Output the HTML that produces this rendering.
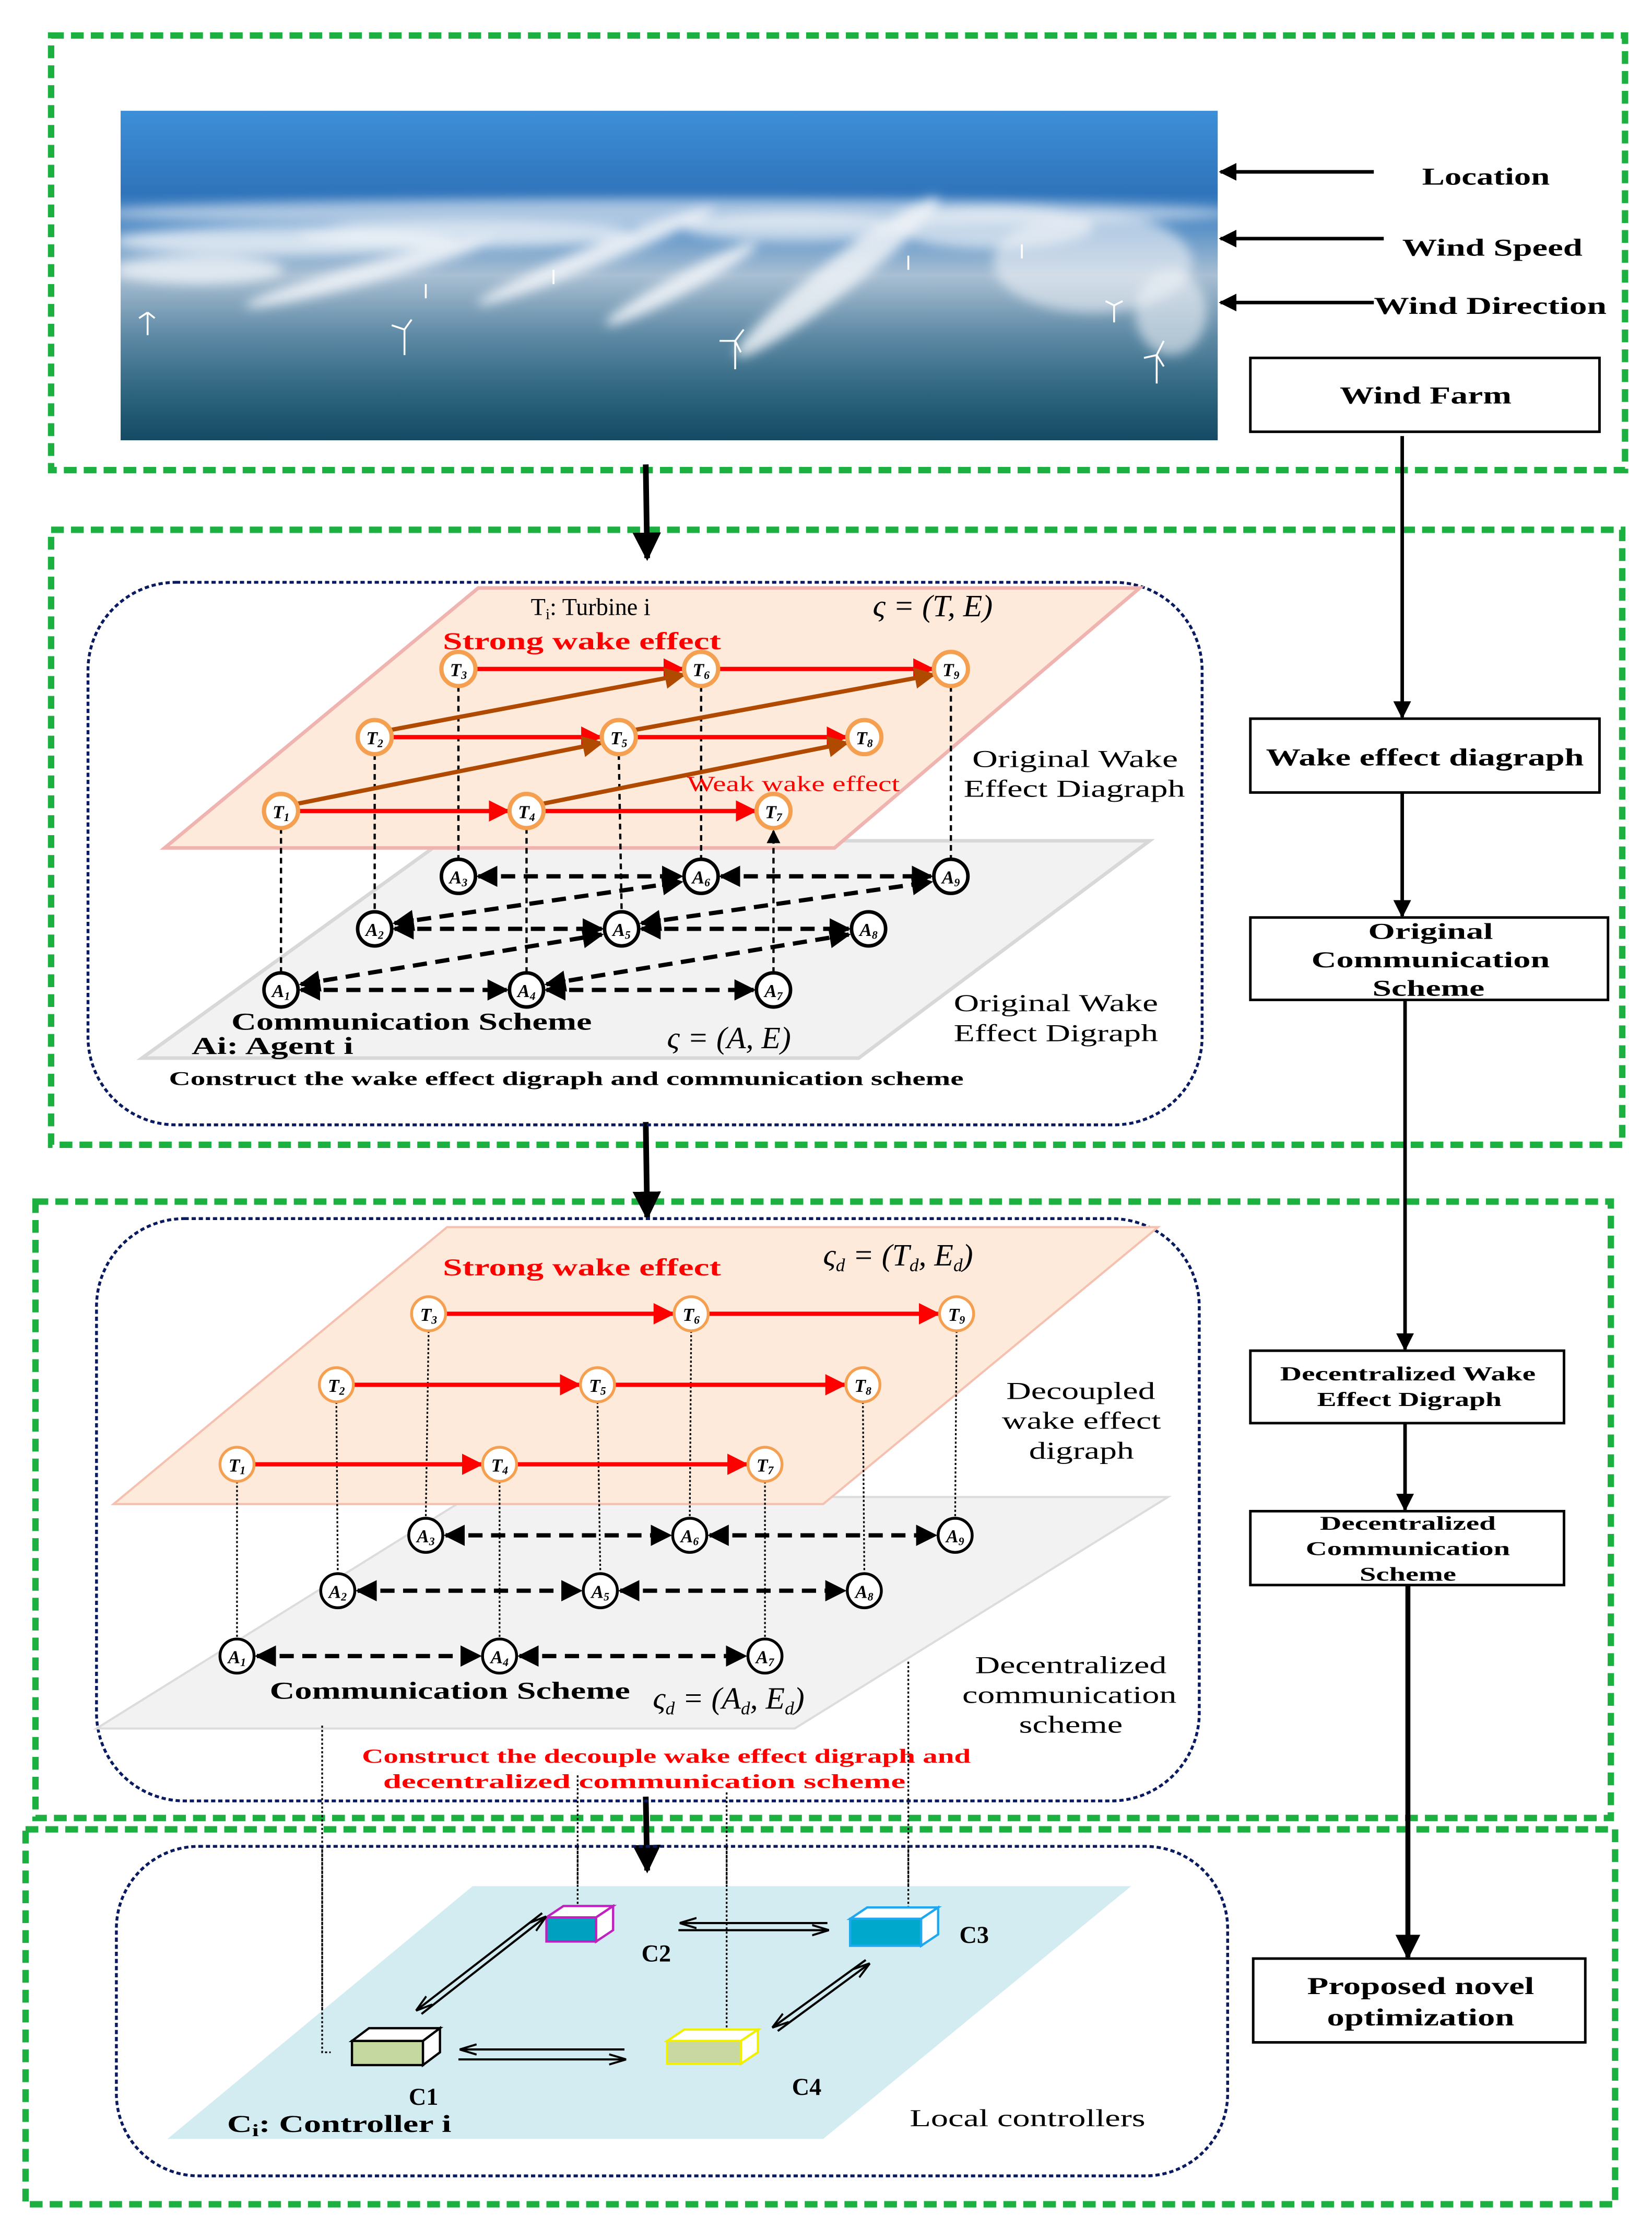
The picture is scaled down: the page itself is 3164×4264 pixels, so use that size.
<!DOCTYPE html>
<html><head><meta charset="utf-8"><style>html,body{margin:0;padding:0;background:#fff}svg{display:block}</style></head>
<body>
<svg width="3164" height="4264" viewBox="0 0 1164 1568" preserveAspectRatio="none" xmlns="http://www.w3.org/2000/svg" font-family="Liberation Serif, serif">
<defs>
<linearGradient id="sky" x1="0" y1="0" x2="0" y2="1">
<stop offset="0" stop-color="#3d8fd8"/><stop offset="0.25" stop-color="#2f74bb"/><stop offset="0.36" stop-color="#5d93c8"/><stop offset="0.5" stop-color="#a9bfd3"/><stop offset="0.68" stop-color="#5f8aa6"/><stop offset="0.85" stop-color="#2f6680"/><stop offset="1" stop-color="#144a63"/>
</linearGradient>
<filter id="bl" x="-20%" y="-50%" width="140%" height="200%"><feGaussianBlur stdDeviation="4"/></filter>
<marker id="ar" viewBox="0 0 10 10" refX="9" refY="5" markerWidth="5" markerHeight="5" orient="auto-start-reverse" markerUnits="strokeWidth"><path d="M0,0 L10,5 L0,10 z" fill="#f00"/></marker>
<marker id="ab" viewBox="0 0 10 10" refX="9" refY="5" markerWidth="5" markerHeight="5" orient="auto-start-reverse" markerUnits="strokeWidth"><path d="M0,0 L10,5 L0,10 z" fill="#b04a00"/></marker>
<marker id="ak" viewBox="0 0 10 10" refX="9" refY="5" markerWidth="5" markerHeight="5" orient="auto-start-reverse" markerUnits="strokeWidth"><path d="M0,0 L10,5 L0,10 z" fill="#000"/></marker>
<marker id="ak2" viewBox="0 0 10 10" refX="9" refY="5" markerWidth="6" markerHeight="6" orient="auto-start-reverse" markerUnits="strokeWidth"><path d="M0,0 L10,5 L0,10 z" fill="#000"/></marker>
<marker id="ah" viewBox="0 0 10 10" refX="9" refY="5" markerWidth="8" markerHeight="8" orient="auto" markerUnits="strokeWidth"><path d="M0,2 L10,5 L0,8" fill="none" stroke="#000" stroke-width="1.2"/></marker>
<clipPath id="pc"><rect x="85" y="78" width="773" height="232"/></clipPath>
</defs>

<g fill="none" stroke="#1cb040" stroke-width="4.5" stroke-dasharray="9 5">
<rect x="36" y="25" width="1109" height="306"/>
<rect x="36" y="373" width="1107" height="433"/>
<rect x="25" y="846" width="1110" height="434"/>
<rect x="18" y="1288" width="1120" height="264"/>
</g>

<!-- photo -->
<rect x="85" y="78" width="773" height="232" fill="url(#sky)"/>
<g clip-path="url(#pc)" filter="url(#bl)" fill="#eef2f7">
<ellipse cx="470" cy="150" rx="400" ry="10" opacity="0.6"/>
<ellipse cx="200" cy="170" rx="120" ry="10" opacity="0.8"/>
<ellipse cx="140" cy="190" rx="60" ry="10" opacity="0.8"/>
<ellipse cx="330" cy="165" rx="120" ry="9" opacity="0.8"/>
<ellipse cx="260" cy="192" rx="90" ry="7" transform="rotate(-15 260 192)" opacity="0.9"/>
<ellipse cx="420" cy="180" rx="90" ry="7" transform="rotate(-22 420 180)" opacity="0.9"/>
<ellipse cx="480" cy="200" rx="60" ry="7" transform="rotate(-28 480 200)" opacity="0.9"/>
<ellipse cx="590" cy="195" rx="90" ry="12" transform="rotate(-38 590 195)" opacity="0.85"/>
<ellipse cx="560" cy="160" rx="80" ry="10" opacity="0.7"/>
<ellipse cx="700" cy="160" rx="70" ry="15" opacity="0.7"/>
<ellipse cx="770" cy="185" rx="70" ry="35" opacity="0.6"/>
<ellipse cx="825" cy="220" rx="25" ry="30" opacity="0.6"/>
</g>
<g stroke="#fff" stroke-width="1.3" fill="none">
<path d="M104,220 v16 M104,220 l-6,4 M104,220 l5,4"/>
<path d="M285,232 v18 M285,232 l-9,-3 M285,232 l5,-7"/>
<path d="M518,240 v20 M518,240 l-11,0 M518,240 l6,-8 M518,240 l4,8"/>
<path d="M815,250 v20 M815,250 l-9,2 M815,250 l5,-10 M815,250 l5,8"/>
<path d="M785,215 v12 M785,215 l-6,-3 M785,215 l6,-3"/>
<path d="M720,172 v10 M390,190 v10 M300,200 v10 M640,180 v10"/>
</g>

<g stroke="#000" stroke-width="2.5" marker-end="url(#ak)">
<line x1="968" y1="121" x2="860" y2="121"/>
<line x1="975" y1="168" x2="860" y2="168"/>
<line x1="968" y1="213" x2="860" y2="213"/>
</g>
<g font-weight="bold" font-size="17" lengthAdjust="spacingAndGlyphs">
<text x="1002" y="130" textLength="90" lengthAdjust="spacingAndGlyphs">Location</text>
<text x="988" y="180" textLength="127" lengthAdjust="spacingAndGlyphs">Wind Speed</text>
<text x="968" y="221" textLength="164" lengthAdjust="spacingAndGlyphs">Wind Direction</text>
</g>

<g fill="#fff" stroke="#000" stroke-width="1.8">
<rect x="881" y="252" width="246" height="52"/>
<rect x="881" y="506" width="246" height="52"/>
<rect x="881" y="646" width="252" height="58"/>
<rect x="881" y="951" width="221" height="51"/>
<rect x="881" y="1064" width="221" height="52"/>
<rect x="883" y="1379" width="234" height="59"/>
</g>
<g font-weight="bold">
<text x="944" y="284" font-size="17" textLength="121" lengthAdjust="spacingAndGlyphs">Wind Farm</text>
<text x="892" y="539" font-size="17" textLength="224" lengthAdjust="spacingAndGlyphs">Wake effect diagraph</text>
<text x="964" y="661" font-size="16" textLength="88" lengthAdjust="spacingAndGlyphs">Original</text>
<text x="924" y="681" font-size="16" textLength="168" lengthAdjust="spacingAndGlyphs">Communication</text>
<text x="967" y="701" font-size="16" textLength="79" lengthAdjust="spacingAndGlyphs">Scheme</text>
<text x="902" y="972" font-size="14" textLength="180" lengthAdjust="spacingAndGlyphs">Decentralized Wake</text>
<text x="928" y="990" font-size="14" textLength="130" lengthAdjust="spacingAndGlyphs">Effect Digraph</text>
<text x="930" y="1077" font-size="13.5" textLength="124" lengthAdjust="spacingAndGlyphs">Decentralized</text>
<text x="920" y="1095" font-size="13.5" textLength="144" lengthAdjust="spacingAndGlyphs">Communication</text>
<text x="958" y="1113" font-size="13.5" textLength="68" lengthAdjust="spacingAndGlyphs">Scheme</text>
<text x="921" y="1404" font-size="17" textLength="160" lengthAdjust="spacingAndGlyphs">Proposed novel</text>
<text x="935" y="1426" font-size="17" textLength="132" lengthAdjust="spacingAndGlyphs">optimization</text>
</g>
<g stroke="#000" stroke-width="2.5" marker-end="url(#ak)">
<line x1="988" y1="307" x2="988" y2="505"/>
<line x1="988" y1="558" x2="988" y2="645"/>
<line x1="990" y1="704" x2="990" y2="950"/>
<line x1="990" y1="1002" x2="990" y2="1063"/>
<line x1="992" y1="1116" x2="992" y2="1378" stroke-width="3.5"/>
</g>
<g stroke="#000" stroke-width="4" marker-end="url(#ak)">
<line x1="455" y1="327" x2="456" y2="393"/>
<line x1="455" y1="790" x2="456" y2="857"/>
<line x1="455" y1="1265" x2="456" y2="1317"/>
</g>

<!-- Section 2 -->
<rect x="62" y="410" width="785" height="382" rx="62" fill="none" stroke="#0a1a60" stroke-width="2" stroke-dasharray="3 2"/>
<polygon points="312,592 810,592 605,745 100,745" fill="#f2f2f2" stroke="#d8d8d8" stroke-width="2.5"/>
<polygon points="337,414 803,414 588,597 116,597" fill="#fdeadb" stroke="#f0b4b0" stroke-width="2.5"/>
<g stroke="#000" stroke-width="1.6" stroke-dasharray="4 3">
<line x1="323" y1="483" x2="323" y2="605"/><line x1="494" y1="483" x2="494" y2="605"/><line x1="670" y1="483" x2="670" y2="605"/>
<line x1="264" y1="531" x2="264" y2="642"/><line x1="436" y1="531" x2="438" y2="642"/>
<line x1="198" y1="583" x2="198" y2="685"/><line x1="371" y1="583" x2="371" y2="685"/>
</g>
<line x1="545" y1="685" x2="545" y2="585" stroke="#000" stroke-width="1.6" stroke-dasharray="4 3" marker-end="url(#ak2)"/>
<g stroke="#f00" stroke-width="3" marker-end="url(#ar)">
<line x1="335" y1="471" x2="481" y2="471"/><line x1="506" y1="471" x2="657" y2="471"/>
<line x1="276" y1="519" x2="423" y2="519"/><line x1="448" y1="519" x2="596" y2="519"/>
<line x1="210" y1="571" x2="358" y2="571"/><line x1="383" y1="571" x2="532" y2="571"/>
</g>
<g stroke="#b04a00" stroke-width="3" marker-end="url(#ab)">
<line x1="275" y1="514" x2="482" y2="475"/><line x1="447" y1="514" x2="658" y2="475"/>
<line x1="209" y1="566" x2="424" y2="523"/><line x1="382" y1="566" x2="597" y2="523"/>
</g>
<g stroke="#000" stroke-width="3" stroke-dasharray="10 6" marker-start="url(#ak)" marker-end="url(#ak)">
<line x1="337" y1="617" x2="480" y2="617"/><line x1="508" y1="617" x2="656" y2="617"/>
<line x1="278" y1="654" x2="424" y2="654"/><line x1="452" y1="654" x2="598" y2="654"/>
<line x1="212" y1="697" x2="357" y2="697"/><line x1="385" y1="697" x2="531" y2="697"/>
<line x1="278" y1="650" x2="480" y2="621"/><line x1="452" y1="650" x2="656" y2="621"/>
<line x1="212" y1="693" x2="424" y2="658"/><line x1="385" y1="693" x2="598" y2="658"/>
</g>
<g fill="#fff" stroke="#f5a050" stroke-width="3">
<circle cx="323" cy="471" r="12"/><circle cx="494" cy="471" r="12"/><circle cx="670" cy="471" r="12"/>
<circle cx="264" cy="519" r="12"/><circle cx="436" cy="519" r="12"/><circle cx="609" cy="519" r="12"/>
<circle cx="198" cy="571" r="12"/><circle cx="371" cy="571" r="12"/><circle cx="545" cy="571" r="12"/>
</g>
<g fill="#fff" stroke="#000" stroke-width="2.5">
<circle cx="323" cy="617" r="12"/><circle cx="494" cy="617" r="12"/><circle cx="670" cy="617" r="12"/>
<circle cx="264" cy="654" r="12"/><circle cx="438" cy="654" r="12"/><circle cx="612" cy="654" r="12"/>
<circle cx="198" cy="697" r="12"/><circle cx="371" cy="697" r="12"/><circle cx="545" cy="697" r="12"/>
</g>
<g font-style="italic" font-weight="bold" font-size="13" text-anchor="middle">
<text x="323" y="476">T<tspan font-size="8" dy="2">3</tspan></text><text x="494" y="476">T<tspan font-size="8" dy="2">6</tspan></text><text x="670" y="476">T<tspan font-size="8" dy="2">9</tspan></text>
<text x="264" y="524">T<tspan font-size="8" dy="2">2</tspan></text><text x="436" y="524">T<tspan font-size="8" dy="2">5</tspan></text><text x="609" y="524">T<tspan font-size="8" dy="2">8</tspan></text>
<text x="198" y="576">T<tspan font-size="8" dy="2">1</tspan></text><text x="371" y="576">T<tspan font-size="8" dy="2">4</tspan></text><text x="545" y="576">T<tspan font-size="8" dy="2">7</tspan></text>
<text x="323" y="622">A<tspan font-size="8" dy="2">3</tspan></text><text x="494" y="622">A<tspan font-size="8" dy="2">6</tspan></text><text x="670" y="622">A<tspan font-size="8" dy="2">9</tspan></text>
<text x="264" y="659">A<tspan font-size="8" dy="2">2</tspan></text><text x="438" y="659">A<tspan font-size="8" dy="2">5</tspan></text><text x="612" y="659">A<tspan font-size="8" dy="2">8</tspan></text>
<text x="198" y="702">A<tspan font-size="8" dy="2">1</tspan></text><text x="371" y="702">A<tspan font-size="8" dy="2">4</tspan></text><text x="545" y="702">A<tspan font-size="8" dy="2">7</tspan></text>
</g>
<text x="374" y="433" font-size="17">T<tspan font-size="11" dy="3">i</tspan><tspan dy="-3">: Turbine i</tspan></text>
<text x="615" y="434" font-size="22" font-style="italic">ς = (T, E)</text>
<text x="312" y="457" font-size="17" font-weight="bold" fill="#f00" textLength="196" lengthAdjust="spacingAndGlyphs">Strong wake effect</text>
<text x="484" y="557" font-size="15" fill="#f00" textLength="150" lengthAdjust="spacingAndGlyphs">Weak wake effect</text>
<g font-size="17">
<text x="685" y="540" textLength="145" lengthAdjust="spacingAndGlyphs">Original Wake</text><text x="679" y="561" textLength="156" lengthAdjust="spacingAndGlyphs">Effect Diagraph</text>
<text x="672" y="712" textLength="144" lengthAdjust="spacingAndGlyphs">Original Wake</text><text x="672" y="733" textLength="144" lengthAdjust="spacingAndGlyphs">Effect Digraph</text>
</g>
<text x="163" y="725" font-size="17" font-weight="bold" textLength="254" lengthAdjust="spacingAndGlyphs">Communication Scheme</text>
<text x="135" y="742" font-size="17" font-weight="bold" textLength="114" lengthAdjust="spacingAndGlyphs">Ai: Agent i</text>
<text x="470" y="738" font-size="22" font-style="italic">ς = (A, E)</text>
<text x="119" y="764" font-size="13.5" font-weight="bold" textLength="560" lengthAdjust="spacingAndGlyphs">Construct the wake effect digraph and communication scheme</text>

<!-- Section 3 -->
<rect x="68" y="858" width="777" height="410" rx="62" fill="none" stroke="#0a1a60" stroke-width="2" stroke-dasharray="3 2"/>
<polygon points="330,1054 823,1054 560,1217 68,1217" fill="#f2f2f2" stroke="#dcdcdc" stroke-width="1.5"/>
<polygon points="315,864 816,864 580,1059 80,1059" fill="#fdeadb" stroke="#f5c0b0" stroke-width="1.5"/>
<g stroke="#000" stroke-width="1.2" stroke-dasharray="1.5 1.5" fill="none">
<line x1="302" y1="937" x2="300" y2="1069"/><line x1="487" y1="937" x2="486" y2="1069"/><line x1="674" y1="937" x2="673" y2="1069"/>
<line x1="237" y1="987" x2="238" y2="1108"/><line x1="421" y1="987" x2="423" y2="1108"/><line x1="608" y1="987" x2="609" y2="1108"/>
<line x1="167" y1="1043" x2="167" y2="1154"/><line x1="352" y1="1043" x2="352" y2="1154"/><line x1="539" y1="1043" x2="539" y2="1154"/>
<polyline points="227,1215 227,1445 233,1445"/>
<line x1="407" y1="1250" x2="407" y2="1343"/>
<line x1="512" y1="1262" x2="512" y2="1430"/>
<line x1="640" y1="1170" x2="640" y2="1345"/>
</g>
<g stroke="#f00" stroke-width="3" marker-end="url(#ar)">
<line x1="314" y1="925" x2="474" y2="925"/><line x1="499" y1="925" x2="661" y2="925"/>
<line x1="249" y1="975" x2="408" y2="975"/><line x1="433" y1="975" x2="595" y2="975"/>
<line x1="179" y1="1031" x2="339" y2="1031"/><line x1="364" y1="1031" x2="526" y2="1031"/>
</g>
<g stroke="#000" stroke-width="3" stroke-dasharray="10 6" marker-start="url(#ak)" marker-end="url(#ak)">
<line x1="314" y1="1081" x2="472" y2="1081"/><line x1="500" y1="1081" x2="659" y2="1081"/>
<line x1="252" y1="1120" x2="409" y2="1120"/><line x1="437" y1="1120" x2="595" y2="1120"/>
<line x1="181" y1="1166" x2="338" y2="1166"/><line x1="366" y1="1166" x2="525" y2="1166"/>
</g>
<g fill="#fff" stroke="#f5a050" stroke-width="2">
<circle cx="302" cy="925" r="12"/><circle cx="487" cy="925" r="12"/><circle cx="674" cy="925" r="12"/>
<circle cx="237" cy="975" r="12"/><circle cx="421" cy="975" r="12"/><circle cx="608" cy="975" r="12"/>
<circle cx="167" cy="1031" r="12"/><circle cx="352" cy="1031" r="12"/><circle cx="539" cy="1031" r="12"/>
</g>
<g fill="#fff" stroke="#000" stroke-width="2">
<circle cx="300" cy="1081" r="12"/><circle cx="486" cy="1081" r="12"/><circle cx="673" cy="1081" r="12"/>
<circle cx="238" cy="1120" r="12"/><circle cx="423" cy="1120" r="12"/><circle cx="609" cy="1120" r="12"/>
<circle cx="167" cy="1166" r="12"/><circle cx="352" cy="1166" r="12"/><circle cx="539" cy="1166" r="12"/>
</g>
<g font-style="italic" font-weight="bold" font-size="13" text-anchor="middle">
<text x="302" y="930">T<tspan font-size="8" dy="2">3</tspan></text><text x="487" y="930">T<tspan font-size="8" dy="2">6</tspan></text><text x="674" y="930">T<tspan font-size="8" dy="2">9</tspan></text>
<text x="237" y="980">T<tspan font-size="8" dy="2">2</tspan></text><text x="421" y="980">T<tspan font-size="8" dy="2">5</tspan></text><text x="608" y="980">T<tspan font-size="8" dy="2">8</tspan></text>
<text x="167" y="1036">T<tspan font-size="8" dy="2">1</tspan></text><text x="352" y="1036">T<tspan font-size="8" dy="2">4</tspan></text><text x="539" y="1036">T<tspan font-size="8" dy="2">7</tspan></text>
<text x="300" y="1086">A<tspan font-size="8" dy="2">3</tspan></text><text x="486" y="1086">A<tspan font-size="8" dy="2">6</tspan></text><text x="673" y="1086">A<tspan font-size="8" dy="2">9</tspan></text>
<text x="238" y="1125">A<tspan font-size="8" dy="2">2</tspan></text><text x="423" y="1125">A<tspan font-size="8" dy="2">5</tspan></text><text x="609" y="1125">A<tspan font-size="8" dy="2">8</tspan></text>
<text x="167" y="1171">A<tspan font-size="8" dy="2">1</tspan></text><text x="352" y="1171">A<tspan font-size="8" dy="2">4</tspan></text><text x="539" y="1171">A<tspan font-size="8" dy="2">7</tspan></text>
</g>
<text x="312" y="898" font-size="17" font-weight="bold" fill="#f00" textLength="196" lengthAdjust="spacingAndGlyphs">Strong wake effect</text>
<text x="580" y="891" font-size="22" font-style="italic">ς<tspan font-size="13" dy="4">d</tspan><tspan dy="-4"> = (T</tspan><tspan font-size="13" dy="4">d</tspan><tspan dy="-4">, E</tspan><tspan font-size="13" dy="4">d</tspan><tspan dy="-4">)</tspan></text>
<g font-size="17">
<text x="709" y="985" textLength="105" lengthAdjust="spacingAndGlyphs">Decoupled</text><text x="706" y="1006" textLength="112" lengthAdjust="spacingAndGlyphs">wake effect</text><text x="725" y="1027" textLength="74" lengthAdjust="spacingAndGlyphs">digraph</text>
<text x="687" y="1178" textLength="135" lengthAdjust="spacingAndGlyphs">Decentralized</text><text x="678" y="1199" textLength="151" lengthAdjust="spacingAndGlyphs">communication</text><text x="718" y="1220" textLength="73" lengthAdjust="spacingAndGlyphs">scheme</text>
</g>
<text x="190" y="1196" font-size="17" font-weight="bold" textLength="254" lengthAdjust="spacingAndGlyphs">Communication Scheme</text>
<text x="460" y="1203" font-size="22" font-style="italic">ς<tspan font-size="13" dy="4">d</tspan><tspan dy="-4"> = (A</tspan><tspan font-size="13" dy="4">d</tspan><tspan dy="-4">, E</tspan><tspan font-size="13" dy="4">d</tspan><tspan dy="-4">)</tspan></text>
<g font-size="14" font-weight="bold" fill="#f00">
<text x="255" y="1241" textLength="429" lengthAdjust="spacingAndGlyphs">Construct the decouple wake effect digraph and</text>
<text x="270" y="1259" textLength="368" lengthAdjust="spacingAndGlyphs">decentralized communication scheme</text>
</g>

<!-- Section 4 -->
<rect x="82" y="1300" width="783" height="232" rx="58" fill="none" stroke="#0a1a60" stroke-width="2" stroke-dasharray="3 2"/>
<polygon points="333,1328 797,1328 580,1506 118,1506" fill="#d3ecf2"/>
<g stroke="#000" stroke-width="1.2" stroke-dasharray="1.5 1.5" fill="none">
<polyline points="227,1300 227,1445 233,1445"/>
<line x1="407" y1="1300" x2="407" y2="1343"/>
<line x1="512" y1="1300" x2="512" y2="1430"/>
<line x1="640" y1="1300" x2="640" y2="1345"/>
</g>
<g stroke-width="1.6">
<polygon points="385,1350 397,1342 432,1342 420,1350" fill="#fff" stroke="#c020c0"/>
<polygon points="420,1350 432,1342 432,1359 420,1367" fill="#fff" stroke="#c020c0"/>
<rect x="385" y="1350" width="35" height="17" fill="#00a0c0" stroke="#c020c0"/>
<polygon points="599,1351 611,1343 661,1343 649,1351" fill="#fff" stroke="#20a8ee"/>
<polygon points="649,1351 661,1343 661,1362 649,1370" fill="#fff" stroke="#20a8ee"/>
<rect x="599" y="1351" width="50" height="19" fill="#00a8cc" stroke="#20a8ee"/>
<polygon points="248,1437 260,1428 310,1428 298,1437" fill="#fff" stroke="#000"/>
<polygon points="298,1437 310,1428 310,1445 298,1454" fill="#fff" stroke="#000"/>
<rect x="248" y="1437" width="50" height="17" fill="#c4d8a0" stroke="#000"/>
<polygon points="470,1437 482,1429 534,1429 522,1437" fill="#fff" stroke="#f0f000"/>
<polygon points="522,1437 534,1429 534,1445 522,1453" fill="#fff" stroke="#f0f000"/>
<rect x="470" y="1437" width="52" height="16" fill="#c8d8a0" stroke="#f0f000"/>
</g>
<g stroke="#000" stroke-width="1.5" marker-end="url(#ah)">
<line x1="583" y1="1354" x2="480" y2="1354"/>
<line x1="478" y1="1359" x2="583" y2="1359"/>
<line x1="440" y1="1443" x2="325" y2="1443"/>
<line x1="323" y1="1450" x2="440" y2="1450"/>
<line x1="297" y1="1418" x2="384" y2="1350"/>
<line x1="382" y1="1347" x2="294" y2="1415"/>
<line x1="548" y1="1430" x2="612" y2="1383"/>
<line x1="610" y1="1380" x2="545" y2="1427"/>
</g>
<g font-weight="bold" font-size="17">
<text x="452" y="1381">C2</text>
<text x="676" y="1368">C3</text>
<text x="288" y="1482">C1</text>
<text x="558" y="1475">C4</text>
<text x="160" y="1501" textLength="158" lengthAdjust="spacingAndGlyphs">C<tspan font-size="12" dy="3">i</tspan><tspan dy="-3">: Controller i</tspan></text>
</g>
<text x="641" y="1497" font-size="17" textLength="166" lengthAdjust="spacingAndGlyphs">Local controllers</text>
</svg>
</body></html>
